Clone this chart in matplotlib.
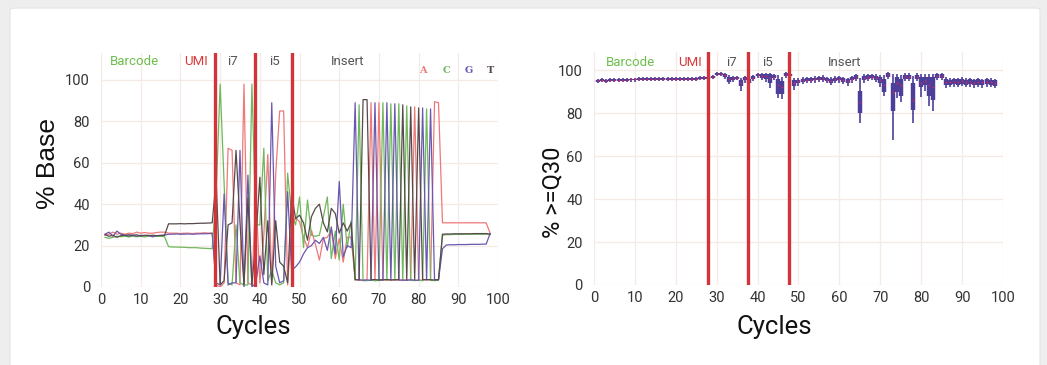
import matplotlib.pyplot as plt
from matplotlib.patches import FancyBboxPatch

# --- % Base per cycle (A, C, G, T) ---
cycles = list(range(1, 99))

base_a = ([25, 25.5, 26.5, 25.5, 26, 25.5, 26, 25.8, 26.5, 26, 26.3, 26, 26, 26.3, 26.5, 26.5]
          + [26, 26, 26, 25.8, 26, 26, 25.8, 26, 26, 26.2, 26, 26.2]
          + [1, 0, 2, 67, 66, 2, 1, 98, 2, 1, 45, 2, 25, 64, 2, 55, 85, 85, 1, 30]
          + [33.5, 31.5, 24, 19, 27.4, 20.6, 13, 23.4, 24, 27.4, 13.7, 23.4, 12, 24, 24]
          + [3.5, 3.3, 3.2, 3.4, 89, 3.3, 89, 3.4, 3.3, 3.5, 3.3, 3.4, 3.2, 3.5, 3.3, 87, 3.4, 3.3, 3.5, 3.4, 89.5, 89]
          + [31, 31, 31, 31, 31, 31, 31, 31, 31, 31, 31, 31, 26])
base_c = ([24, 23.5, 24, 24.5, 24.3, 24.5, 24.2, 24.5, 24.3, 24.5, 24.2, 24.5, 24.3, 24.5, 24.5, 24.3]
          + [19.5, 19.3, 19.3, 19.2, 19.2, 19, 19, 19, 18.8, 18.7, 18.6, 18.5]
          + [45, 98, 50, 2, 1, 30, 2, 1, 1, 98, 30, 30, 67, 3, 8, 2, 1, 2, 55, 35]
          + [30, 43.5, 19, 42, 25, 24.5, 25, 34, 43.5, 13.7, 27, 13, 40, 19, 32]
          + [3.2, 88, 3.0, 3.1, 3.3, 3.0, 3.2, 89, 3.1, 88.5, 3.2, 88.5, 3.0, 87.5, 3.2, 3.1, 3.3, 3.0, 86, 3.2, 3.1, 3.3]
          + [25, 25.3, 25.3, 25.4, 25.4, 25.4, 25.5, 25.5, 25.5, 25.5, 25.5, 25.5, 25.5])
base_g = ([25.5, 26.5, 24.5, 27, 25.5, 25, 25.3, 25, 24.5, 25, 24.8, 25, 24.3, 24.8, 25, 25]
          + [25.5, 25.5, 25.6, 25.5, 25.5, 25.6, 25.5, 25.6, 25.7, 25.7, 25.8, 25.8]
          + [2, 1, 45, 1, 2, 2, 66, 0, 54, 0, 2, 15, 2, 1, 89, 10, 2, 3, 46, 8]
          + [9.7, 12, 16, 19, 20, 22.6, 21, 24, 17.7, 29, 16, 51, 14.5, 20, 19]
          + [89, 3.5, 3.3, 3.4, 3.2, 89, 3.4, 3.3, 89, 3.2, 88.5, 3.3, 3.4, 3.2, 3.5, 3.3, 3.2, 86.5, 3.3, 86, 3.5, 3.4]
          + [18.5, 20.3, 20.4, 20.4, 20.5, 20.5, 20.5, 20.6, 20.6, 20.6, 20.7, 20.7, 25.8])
base_t = ([25.3, 24.5, 25, 24, 24.8, 25, 24.6, 25, 25.2, 24.6, 25, 24.8, 25, 24.8, 24.8, 25]
          + [30.5, 30.5, 30.5, 30.6, 30.5, 30.6, 30.6, 30.7, 30.8, 30.8, 30.9, 31]
          + [52, 1, 3, 30, 31, 66, 31, 1, 43, 1, 23, 53, 6, 32, 1, 32, 12, 10, 2, 45]
          + [33, 34.7, 31, 22.6, 34, 38, 40, 31, 26.6, 38, 35.5, 26, 31, 27, 31]
          + [3.6, 3.4, 90.5, 90.5, 3.5, 3.6, 3.4, 3.5, 3.6, 3.4, 3.5, 3.6, 88, 3.5, 87, 3.6, 86.5, 3.5, 3.6, 3.5, 3.4, 3.6]
          + [25.5, 25.6, 25.6, 25.7, 25.7, 25.7, 25.7, 25.7, 25.8, 25.8, 25.8, 25.8, 25.5])

# --- % >=Q30 per cycle (box summary) ---
q30_med = [95.2, 95.6, 95.0, 95.5, 95.6, 95.6, 95.4, 95.6, 95.7, 95.7,
           95.8, 95.8, 95.8, 95.9, 95.8, 95.9, 95.8, 95.8, 95.9, 95.8,
           95.9, 96.0, 95.9, 96.0, 95.8, 96.5, 96.6, 96.6, 97.0, 98.2,
           98.3, 97.7, 96.0, 96.3, 96.5, 94.0, 96.2, 95.0, 96.5, 97.8,
           97.5, 97.4, 96.5, 97.0, 93.0, 92.0, 98.0, 97.8, 94.0, 94.8,
           95.2, 95.5, 95.6, 95.8, 96.0, 96.3, 95.5, 95.0, 95.8, 96.0,
           95.5, 94.8, 96.0, 96.8, 85.0, 96.5, 97.0, 97.0, 96.5, 95.5,
           93.0, 97.8, 90.0, 94.0, 93.0, 97.0, 97.0, 86.0, 97.0, 94.0,
           95.0, 93.0, 92.0, 97.3, 97.3, 94.5, 94.3, 94.6, 94.5, 94.8,
           94.4, 94.6, 94.2, 94.5, 94.3, 94.6, 94.4, 94.0]
q30_q1 = [94.7, 95.1, 94.5, 95.0, 95.1, 95.1, 94.9, 95.1, 95.2, 95.2,
          95.3, 95.3, 95.3, 95.4, 95.3, 95.4, 95.3, 95.3, 95.4, 95.3,
          95.4, 95.5, 95.4, 95.5, 95.3, 96.0, 96.1, 96.1, 96.5, 97.7,
          97.8, 96.8, 94.5, 95.5, 95.8, 92.5, 95.2, 94.0, 95.8, 97.2,
          96.5, 96.0, 94.0, 96.2, 89.0, 89.0, 97.3, 97.2, 92.5, 93.8,
          94.5, 94.8, 95.0, 95.2, 95.4, 95.6, 94.8, 94.2, 95.0, 95.3,
          94.6, 93.8, 95.2, 96.0, 80.0, 95.2, 96.0, 96.2, 95.5, 94.0,
          90.0, 97.0, 81.0, 90.0, 88.0, 96.0, 96.0, 81.5, 96.0, 92.0,
          93.0, 88.0, 86.0, 96.5, 96.5, 93.0, 93.2, 93.4, 93.2, 93.6,
          93.2, 93.4, 93.0, 93.3, 93.0, 93.4, 93.2, 92.8]
q30_q3 = [95.6, 96.0, 95.4, 95.9, 96.0, 96.0, 95.8, 96.0, 96.1, 96.1,
          96.2, 96.2, 96.2, 96.3, 96.2, 96.3, 96.2, 96.2, 96.3, 96.2,
          96.3, 96.4, 96.3, 96.4, 96.2, 96.9, 97.0, 97.0, 97.4, 98.6,
          98.7, 98.3, 97.0, 96.8, 97.0, 95.5, 96.8, 96.0, 97.2, 98.3,
          98.2, 98.2, 98.0, 97.8, 96.0, 95.0, 98.5, 98.4, 95.5, 95.6,
          96.0, 96.2, 96.3, 96.5, 96.6, 97.0, 96.4, 96.0, 96.5, 96.8,
          96.4, 95.8, 96.8, 97.6, 90.5, 97.5, 97.8, 97.8, 97.4, 97.0,
          96.0, 98.5, 94.0, 97.0, 96.0, 97.8, 97.8, 94.0, 97.8, 97.0,
          97.0, 97.0, 97.0, 98.0, 98.0, 96.0, 95.6, 95.8, 95.7, 96.0,
          95.6, 95.8, 95.5, 95.7, 95.5, 95.8, 95.6, 95.2]
q30_lo = [94.2, 94.6, 94.0, 94.5, 94.6, 94.6, 94.4, 94.6, 94.7, 94.7,
          94.8, 94.8, 94.8, 94.9, 94.8, 94.9, 94.8, 94.8, 94.9, 94.8,
          94.9, 95.0, 94.9, 95.0, 94.8, 95.5, 95.6, 95.6, 96.0, 97.3,
          97.4, 96.0, 93.5, 94.5, 95.2, 90.5, 94.2, 93.0, 95.0, 96.5,
          95.5, 94.5, 91.5, 95.2, 87.0, 86.5, 96.5, 96.5, 91.0, 92.5,
          93.5, 93.8, 94.0, 94.2, 94.4, 94.6, 93.8, 93.0, 94.0, 94.2,
          93.5, 92.5, 94.2, 95.0, 75.5, 94.0, 95.0, 95.2, 94.5, 92.0,
          88.0, 96.0, 67.5, 87.0, 85.0, 95.0, 95.0, 75.5, 95.0, 87.5,
          90.5, 83.5, 81.0, 95.5, 95.5, 91.5, 92.0, 92.2, 92.0, 92.4,
          92.0, 92.2, 91.5, 92.0, 91.5, 92.2, 92.0, 91.5]
q30_hi = [96.0, 96.4, 95.8, 96.3, 96.4, 96.4, 96.2, 96.4, 96.5, 96.5,
          96.6, 96.6, 96.6, 96.7, 96.6, 96.7, 96.6, 96.6, 96.7, 96.6,
          96.7, 96.8, 96.7, 96.8, 96.6, 97.3, 97.4, 97.4, 97.8, 99.0,
          99.0, 98.8, 97.8, 97.3, 97.5, 96.5, 97.4, 96.8, 97.8, 98.8,
          98.8, 98.8, 98.6, 98.4, 97.8, 97.0, 99.0, 98.9, 96.2, 96.3,
          96.6, 96.8, 96.9, 97.1, 97.2, 97.6, 97.0, 96.6, 97.1, 97.4,
          97.0, 96.5, 97.4, 98.2, 96.5, 98.2, 98.4, 98.4, 98.0, 97.8,
          97.8, 99.0, 98.0, 98.2, 97.8, 98.5, 98.5, 97.5, 98.5, 98.2,
          98.2, 98.4, 98.4, 98.6, 98.6, 96.6, 96.2, 96.4, 96.3, 96.6,
          96.2, 96.4, 96.1, 96.3, 96.1, 96.4, 96.2, 95.8]

# read-segment boundaries and labels
bounds_left = [28.7, 38.8, 48.2]
bounds_right = [28.0, 37.7, 47.7]
seg_names = ["Barcode", "UMI", "i7", "i5", "Insert"]
seg_x_left = [8.3, 24.0, 33.2, 43.6, 62.2]
seg_x_right = [8.8, 23.5, 33.5, 42.5, 61.4]
bases = ["A", "C", "G", "T"]
base_x = [81.1, 86.9, 92.7, 98.0]
ticks = [0, 10, 20, 30, 40, 50, 60, 70, 80, 90, 100]
yticks = [0, 20, 40, 60, 80, 100]

col_base = ["#f07878", "#6fb85c", "#6a58b0", "#574a4a"]
seg_colors = ["#6cbf4a", "#d93a3a", "#555555", "#555555", "#555555"]
red_line = "#d3343a"
grid_c = "#f4ebe6"
font_ui = ["Roboto", "DejaVu Sans"]

fig = plt.figure(figsize=(10.47, 3.65), dpi=100)
fig.patch.set_facecolor("#eeeeee")
card = FancyBboxPatch((0.0096, -0.02), 0.9837, 0.998, boxstyle="round,pad=0,rounding_size=0.006",
                      transform=fig.transFigure, facecolor="white", edgecolor="#e4e4e4",
                      lw=0.8, zorder=-10)
fig.patches.append(card)

ax1 = fig.add_axes([0.0965, 0.2137, 0.3792, 0.641])
ax2 = fig.add_axes([0.5673, 0.2192, 0.3906, 0.638])


def style(ax, ytop):
    ax.patch.set_alpha(0)
    ax.set_xlim(0, 100)
    ax.set_ylim(0, ytop)
    ax.set_xticks(ticks)
    ax.set_yticks(yticks)
    ax.grid(True, color=grid_c, lw=0.9)
    ax.set_axisbelow(True)
    for s in ax.spines.values():
        s.set_visible(False)
    ax.tick_params(length=0, labelsize=10.5, labelcolor="#333333")
    ax.tick_params(axis="y", pad=8)
    ax.tick_params(axis="x", pad=4)
    for lab in ax.get_xticklabels() + ax.get_yticklabels():
        lab.set_family(font_ui)


# left: % Base
style(ax1, 113)
for vals, c in zip([base_a, base_c, base_g, base_t], col_base):
    ax1.plot(cycles, vals, color=c, lw=0.9, zorder=2)
for b in bounds_left:
    ax1.axvline(b, color=red_line, lw=2.4, zorder=3)
for name, x, c in zip(seg_names, seg_x_left, seg_colors):
    ax1.text(x, 108.7, name, color=c, fontsize=9.5, ha="center", va="center", family=font_ui)
for b, x, c in zip(bases, base_x, col_base):
    ax1.text(x, 104.8, b, color=c, fontsize=7, ha="center", va="center",
             fontweight="bold", family="DejaVu Serif")

# right: % >= Q30
style(ax2, 108.4)
box_c = "#4c3f99"
ax2.vlines(cycles, q30_lo, q30_hi, color=box_c, lw=1.2, zorder=2)
ax2.vlines(cycles, q30_q1, q30_q3, color=box_c, lw=3.2, zorder=3)
ax2.scatter(cycles, q30_med, s=2, color="#c02a6a", zorder=4, linewidths=0)
for b in bounds_right:
    ax2.axvline(b, color=red_line, lw=2.4, zorder=5)
for name, x, c in zip(seg_names, seg_x_right, seg_colors):
    ax2.text(x, 103.7, name, color=c, fontsize=9.5, ha="center", va="center", family=font_ui)

# axis titles
fig.text(48 / 1047, 1 - 164 / 365, "% Base", rotation=90, ha="center", va="center",
         fontsize=19, family="Liberation Sans", color="#111111")
fig.text(553 / 1047, 1 - 192 / 365, "% >=Q30", rotation=90, ha="center", va="center",
         fontsize=17, family=font_ui, color="#111111")
fig.text(253 / 1047, 1 - 327 / 365, "Cycles", ha="center", va="center",
         fontsize=18.5, family=font_ui, color="#111111")
fig.text(774 / 1047, 1 - 327 / 365, "Cycles", ha="center", va="center",
         fontsize=18.5, family=font_ui, color="#111111")

fig.savefig("out.png", dpi=100, facecolor=fig.get_facecolor())
